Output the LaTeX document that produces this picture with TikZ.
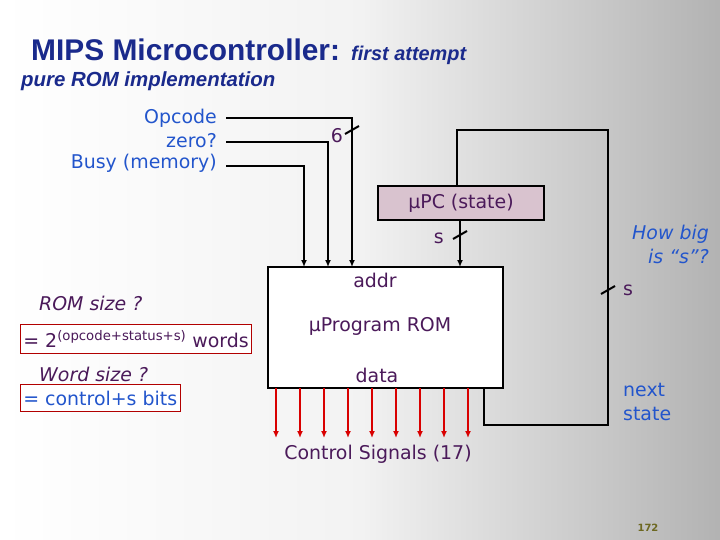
\documentclass[tikz,border=0pt]{standalone}
\usepackage{fontspec}
\setmainfont{DejaVu Sans}
\newfontfamily\titlefont{Liberation Sans}
\usetikzlibrary{arrows.meta}
\definecolor{titleblue}{HTML}{1A2A8C}
\definecolor{txtpurple}{HTML}{4B1A5A}
\definecolor{txtblue}{HTML}{2255CC}
\definecolor{pcfill}{HTML}{D9C3CF}
\tikzset{
  wire/.style={line width=2.6pt},
  tip/.style={-{Latex[length=7pt,width=6pt]}},
  lbl/.style={text=txtpurple,font=\fontsize{19}{24}\selectfont,inner sep=1pt},
  note/.style={text=txtblue,font=\fontsize{19}{24}\selectfont,inner sep=1pt},
  redbox/.style={draw=red!70!black,fill=white,line width=0.7pt,inner xsep=3pt,inner ysep=6pt},
  busmark/.style={line width=2pt}
}
\begin{document}
\begin{tikzpicture}[x=1bp,y=-1bp]
\shade[left color=white,right color=gray!60,middle color=gray!10] (0,0) rectangle (720,540);
\useasboundingbox (0,0) rectangle (720,540);
% title
\node[anchor=base west,inner sep=0,text=titleblue,font=\titlefont\bfseries\fontsize{30}{34}\selectfont] (title) at (31,61)
  {MIPS Microcontroller: {\itshape\fontsize{20}{22}\selectfont first attempt}};
\node[anchor=base west,inner sep=0,text=titleblue,font=\titlefont\bfseries\itshape\fontsize{20.5}{24}\selectfont] (sub) at (21,87) {pure ROM implementation};
% inputs
\node[note,anchor=east] (opc) at (218,118) {Opcode};
\node[note,anchor=east] (zero) at (218,141) {zero?};
\node[note,anchor=east] (busy) at (218,163) {Busy (memory)};
% boxes
\node[draw,wire,fill=white,minimum width=235bp,minimum height=121bp] (rom) at (385.5,327.5) {};
\node[lbl] at (375,280) {addr};
\node[lbl] at (380,326) {µProgram ROM};
\node[lbl] at (377,375) {data};
\node[draw,wire,fill=pcfill,minimum width=166bp,minimum height=34bp,lbl] (upc) at (461,203) {µPC (state)};
% address wires
\coordinate (a1) at (352,267); \coordinate (a2) at (328,267); \coordinate (a3) at (304,267);
\draw[wire,tip] (226,118) -- (352,118) -- (a1);
\draw[wire,tip] (226,142) -- (328,142) -- (a2);
\draw[wire,tip] (226,166) -- (304,166) -- (a3);
\coordinate (s1) at (460,267);
\draw[wire,tip] (upc.south -| s1) -- (s1);
% next state loop
\coordinate (ns) at (484,388);
\coordinate (pcin) at (457,186);
\draw[wire] (ns) -- (484,425) -- (608,425) -- (608,130) -- (457,130) -- (pcin);
% bus marks
\draw[busmark] (345,134) -- (359,126);
\node[lbl,anchor=east] at (344,136) {6};
\draw[busmark] (453,239) -- (467,231);
\node[lbl,anchor=east] at (445,238) {s};
\draw[busmark] (601,294) -- (615,286);
\node[lbl,anchor=west] at (622,290) {s};
% control signals
\foreach \i in {0,...,8}
  \draw[line width=1.7pt,red!85!black,tip] ({276+24*\i},388) -- ({276+24*\i},438);
\node[lbl] (ctl) at (378,454) {Control Signals (17)};
% right notes
\node[note,align=right,anchor=east,font=\itshape\fontsize{19}{24}\selectfont] (big) at (710,244) {How big\\is ``s''?};
\node[note,align=left,anchor=west] (next) at (622,402) {next\\state};
% left notes
\node[lbl,anchor=west,font=\itshape\fontsize{19}{24}\selectfont] (romsz) at (38,303) {ROM size ?};
\node[lbl,redbox,anchor=west] (eq1) at (20,339) {= 2\textsuperscript{(opcode+status+s)} words};
\node[lbl,anchor=west,font=\itshape\fontsize{19}{24}\selectfont] (wsz) at (38,374) {Word size ?};
\node[note,redbox,anchor=west] (eq2) at (20,398) {= control+s bits};
\node[text=olive!70!black,font=\fontsize{10}{11}\selectfont\bfseries] (pg) at (648,528) {172};
\end{tikzpicture}
\end{document}
